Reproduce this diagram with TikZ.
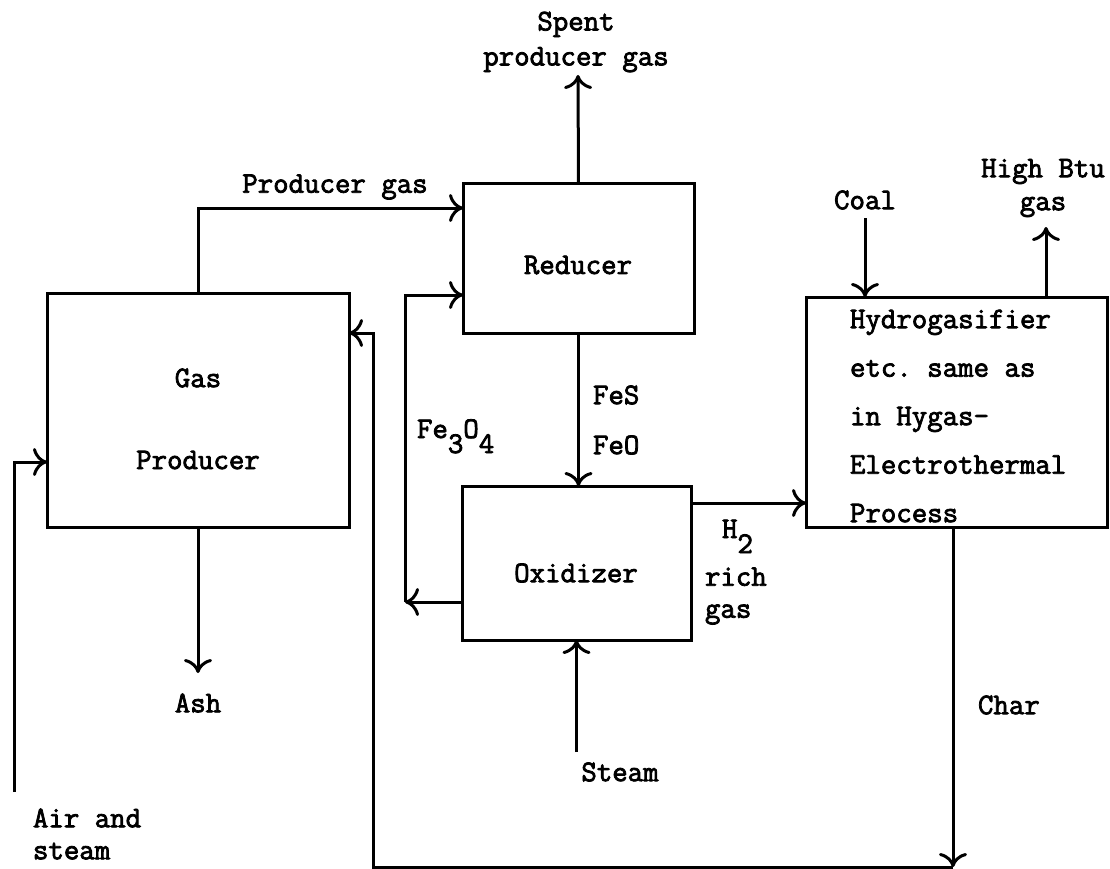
\documentclass[tikz,border=0pt]{standalone}
\usepackage{fontspec}
\setmonofont[FakeBold=2.6]{Latin Modern Mono}
\usetikzlibrary{arrows.meta,positioning}

\begin{document}
\begin{tikzpicture}[
  x=1pt,
  y=-1pt,
  every node/.style={font=\ttfamily\fontsize{30}{33}\selectfont, inner sep=0pt, outer sep=0pt},
  lines/.style={align=left, font=\ttfamily\fontsize{30}{#1}\selectfont},
  unit/.style={draw, line width=3pt},
  flow/.style={-{Computer Modern Rightarrow[length=14pt,width=28pt]}, line width=3pt}
]
\useasboundingbox (0,0) rectangle (1110,869);
\node[unit, minimum width=302pt, minimum height=234pt] (prod) at (198,410) {};
\node[unit, minimum width=231pt, minimum height=149pt] (red) at (578.5,258.5) {};
\node[unit, minimum width=229pt, minimum height=154pt] (oxi) at (576.5,563) {};
\node[unit, minimum width=301pt, minimum height=230pt] (hyd) at (956.5,412) {};

\node (gas) at (198,378) {Gas};
\node (producer) at (198,460) {Producer};
\node (reducer) at (578,265) {Reducer};
\node (oxidizer) at (576,573) {Oxidizer};
\node[lines=48.5, anchor=west] (hydtext) at (850,416) {Hydrogasifier\\etc. same as\\in Hygas-\\Electrothermal\\Process};

\coordinate (spentend) at (578,75);
\node[lines=35, align=center] (spent) at (576,42) {Spent\\producer gas};
\draw[flow] (red.north) -- (spentend);

\node (prodgas) at (335,187) {Producer gas};
\draw[flow] (prod.north) |- ([yshift=50.5pt]red.west);

\draw[flow] (red.south) -- (red.south |- oxi.north);
\node[anchor=west] (fes) at (593,395) {FeS};
\node[anchor=west] (feo) at (593,445) {FeO};

\coordinate (fecorner) at (405,602);
\draw[flow] ([yshift=-39pt]oxi.west) -- (fecorner);
\draw[flow] (fecorner) |- ([yshift=-36.5pt]red.west);
\node[anchor=base west] (fe3o4) at (417,438) {Fe\raisebox{-15pt}{3}O\raisebox{-15pt}{4}};

\draw[flow] ([yshift=60pt]oxi.east) -- ([yshift=60pt]oxi.east -| hyd.west);
\node[anchor=base west] (htwo) at (722,538) {H\raisebox{-15pt}{2}};
\node[lines=32, anchor=west] (richgas) at (705,596) {rich\\gas};

\coordinate (steamin) at (576.5,752);
\draw[flow] (steamin) -- (oxi.south);
\node (steam) at (620,772) {Steam};

\coordinate (coalin) at (865,218);
\draw[flow] (coalin) -- (coalin |- hyd.north);
\node (coal) at (865,200) {Coal};

\coordinate (btuout) at (1046,227);
\draw[flow] ([xshift=89.5pt]hyd.north) -- (btuout);
\node[lines=33, align=center] (btu) at (1043,188) {High Btu\\gas};

\coordinate (charcorner) at (953,867);
\coordinate (charleft) at (373,867);
\draw[flow] ([xshift=-3.5pt]hyd.south) -- (charcorner);
\draw[flow] (charcorner) -- (charleft) |- ([yshift=77pt]prod.east);
\node[anchor=west] (char) at (978,705) {Char};

\coordinate (ashout) at (198,673);
\draw[flow] (prod.south) -- (ashout);
\node (ash) at (198,703) {Ash};

\coordinate (airin) at (14,792);
\draw[flow] (airin) |- ([yshift=-52pt]prod.west);
\node[lines=32, anchor=west] (air) at (33,834) {Air and\\steam};
\end{tikzpicture}
\end{document}
